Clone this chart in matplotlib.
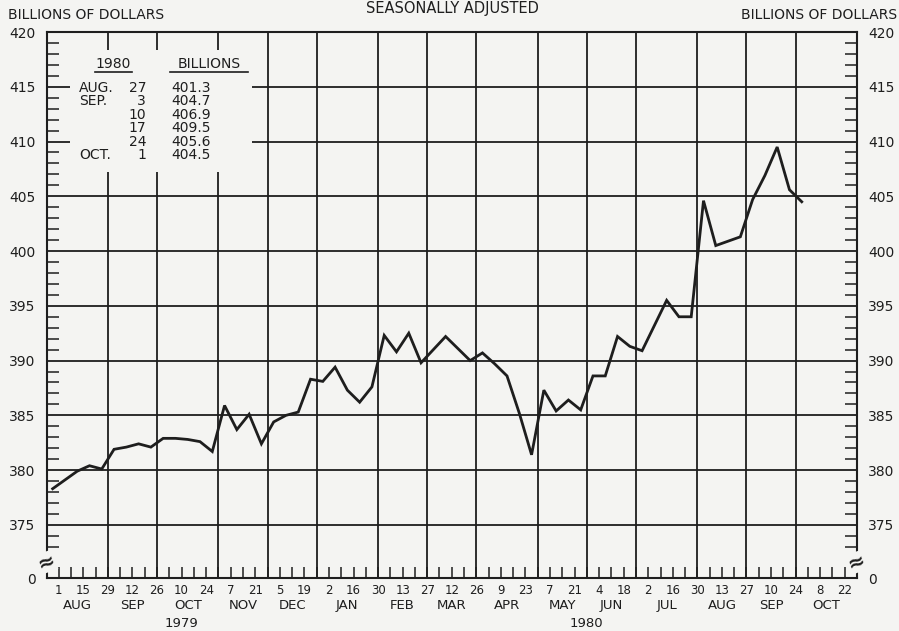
import numpy as np
import matplotlib
matplotlib.use("Agg")
import matplotlib.pyplot as plt
from matplotlib.patches import Rectangle
from matplotlib.lines import Line2D

# weekly values (billions), Aug 1 1979 .. Oct 1 1980
m1_values = [378.3, 379.1, 379.9, 380.4, 380.1, 381.9, 382.1, 382.4, 382.1, 382.9,
             382.9, 382.8, 382.6, 381.7, 385.9, 383.7, 385.1, 382.4, 384.4, 385.0,
             385.3, 388.3, 388.1, 389.4, 387.3, 386.2, 387.6, 392.3, 390.8, 392.5,
             389.8, 391.0, 392.2, 391.1, 390.0, 390.7, 389.7, 388.6, 385.2, 381.4,
             387.3, 385.4, 386.4, 385.5, 388.6, 388.6, 392.2, 391.3, 390.9, 393.2,
             395.5, 394.0, 394.0, 404.6, 400.5, 400.9, 401.3, 404.7, 406.9, 409.5,
             405.6, 404.5]
first_week = 1  # weeks counted from Jul 25 1979

day_labels = ['1', '15', '29', '12', '26', '10', '24', '7', '21', '5', '19',
              '2', '16', '30', '13', '27', '12', '26', '9', '23', '7', '21',
              '4', '18', '2', '16', '30', '13', '27', '10', '24', '8', '22']
month_names = ['AUG', 'SEP', 'OCT', 'NOV', 'DEC', 'JAN', 'FEB', 'MAR',
               'APR', 'MAY', 'JUN', 'JUL', 'AUG', 'SEP', 'OCT']
month_ends = [5, 9, 14, 18, 22, 27, 31, 35, 40, 44, 48, 53, 57, 61, 66]

table_months = ['AUG.', 'SEP.', '', '', '', 'OCT.']
table_days = ['27', '3', '10', '17', '24', '1']
table_vals = ['401.3', '404.7', '406.9', '409.5', '405.6', '404.5']

bg = '#f4f4f2'
ink = '#1e1e1e'
W, H = 899, 631
y0 = 370.15  # axis bottom shown as "0" (broken scale)

fig = plt.figure(figsize=(W / 100, H / 100), dpi=100, facecolor=bg)
ax = fig.add_axes([46.5 / W, 1 - 578 / H, (857 - 46.5) / W, (578 - 32) / H])
ax.set_facecolor(bg)
ax.set_xlim(0, 66)
ax.set_ylim(y0, 420)

for v in range(375, 420, 5):
    ax.axhline(v, color=ink, lw=1.3, zorder=1)
for w in month_ends[:-1]:
    ax.axvline(w, color=ink, lw=1.3, zorder=1)

# blank area behind the table
ax.add_patch(Rectangle((70 / W, 1 - 172 / H), (252 - 70) / W, (172 - 50) / H,
                       transform=fig.transFigure, facecolor=bg, edgecolor='none', zorder=2))

weeks = np.arange(first_week, first_week + len(m1_values)) - 0.5
ax.plot(weeks, m1_values, color=ink, lw=2.0, zorder=3, solid_joinstyle='miter')

# y axis
majors = [y0] + list(range(375, 425, 5))
ax.set_yticks(majors)
ax.set_yticklabels(['0'] + [str(v) for v in range(375, 425, 5)])
minors = [v for v in range(373, 420) if v % 5 != 0]
ax.set_yticks(minors, minor=True)
ax.tick_params(axis='y', which='major', length=0, labelsize=10, pad=8,
               left=True, right=True, labelleft=True, labelright=True, labelcolor=ink)
ax.tick_params(axis='y', which='minor', direction='in', length=8.5, width=1.1,
               left=True, right=True, color=ink)

# x axis
ax.set_xticks(range(1, 66, 2))
ax.set_xticklabels(day_labels)
ax.set_xticks(range(2, 65, 2), minor=True)
ax.tick_params(axis='x', which='both', direction='in', length=8, width=1.1, color=ink)
ax.tick_params(axis='x', which='major', labelsize=8.5, pad=4, labelcolor=ink)

for s in ax.spines.values():
    s.set_color(ink)
    s.set_linewidth(1.5)

tr = ax.get_xaxis_transform()
prev = 0
for name, end in zip(month_names, month_ends):
    ax.text((prev + end) / 2, -0.051, name, transform=tr, ha='center', va='center',
            fontsize=9.5, color=ink)
    prev = end
ax.text(11.0, -0.083, '1979', transform=tr, ha='center', va='center', fontsize=9.5, color=ink)
ax.text(44.0, -0.083, '1980', transform=tr, ha='center', va='center', fontsize=9.5, color=ink)

# scale break marks
for xb in (0, 66):
    ax.text(xb, 371.6, '≈', ha='center', va='center', fontsize=15, rotation=20,
            color=ink, clip_on=False, zorder=5, fontweight='bold',
            bbox=dict(facecolor=bg, edgecolor='none', pad=0.2))

# headings
fig.text(8 / W, 1 - 15 / H, 'BILLIONS OF DOLLARS', ha='left', va='center', fontsize=10, color=ink)
fig.text(897 / W, 1 - 15 / H, 'BILLIONS OF DOLLARS', ha='right', va='center', fontsize=10, color=ink)
fig.text(452 / W, 1 - 9 / H, 'SEASONALLY ADJUSTED', ha='center', va='center', fontsize=10.5, color=ink)

# table
fig.text(113 / W, 1 - 64 / H, '1980', ha='center', va='center', fontsize=10, color=ink)
fig.text(209 / W, 1 - 64 / H, 'BILLIONS', ha='center', va='center', fontsize=10, color=ink)
fig.add_artist(Line2D([95 / W, 132 / W], [1 - 71.5 / H] * 2, color=ink, lw=1.2))
fig.add_artist(Line2D([170 / W, 248 / W], [1 - 71.5 / H] * 2, color=ink, lw=1.2))
for i in range(len(table_vals)):
    yy = 1 - (88 + i * 13.4) / H
    fig.text(79 / W, yy, table_months[i], ha='left', va='center', fontsize=10, color=ink)
    fig.text(146 / W, yy, table_days[i], ha='right', va='center', fontsize=10, color=ink)
    fig.text(171 / W, yy, table_vals[i], ha='left', va='center', fontsize=10, color=ink)

fig.savefig('out.png', dpi=100, facecolor=bg)
